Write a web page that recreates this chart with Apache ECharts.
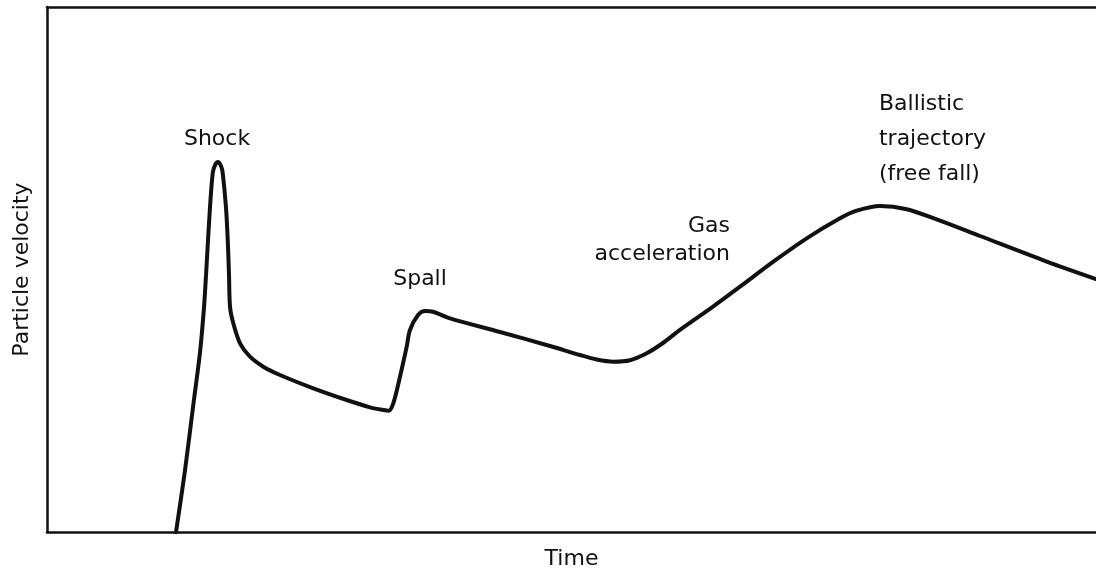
<!DOCTYPE html>
<html>
<head>
<meta charset="utf-8">
<script src="https://cdn.jsdelivr.net/npm/echarts@6/dist/echarts.min.js"></script>
<style>
  html, body { margin: 0; padding: 0; background: #fff; }
  #chart { width: 1096px; height: 575px; }
</style>
</head>
<body>
<div id="chart"></div>
<script>
// time (arbitrary units, 0..100) and particle velocity (arbitrary units, 0..100)
const timeValues = [
  12.30, 13.16, 13.92, 14.59, 14.97, 15.16, 15.35, 15.54, 15.80, 16.02, 16.30, 16.59, 16.75,
  17.06, 17.23, 17.35, 17.45, 17.76, 18.40, 19.35, 20.62, 22.21, 25.39, 28.57, 30.79, 32.06,
  32.56, 33.01, 33.65, 34.29, 34.60, 35.37, 36.03, 36.80, 38.42, 43.18, 47.95, 50.81, 52.40,
  53.99, 55.58, 57.17, 58.72, 60.34, 63.49, 66.06, 69.24, 72.42, 75.60, 77.19, 79.41, 81.96,
  85.13, 88.94, 95.30, 100
]
const velocityValues = [
  0, 11.81, 23.81, 34.29, 42.86, 48.95, 55.62, 61.90, 68.38, 69.90, 70.48, 69.71, 68.38,
  61.90, 55.62, 48.95, 42.86, 39.75, 35.94, 33.39, 31.49, 29.91, 27.37, 25.14, 23.75, 23.24,
  23.09, 24.51, 29.58, 35.30, 38.48, 41.33, 42.10, 41.96, 40.70, 38.10, 35.43, 33.71, 32.86,
  32.44, 32.71, 34.04, 36.00, 38.48, 42.92, 46.72, 51.49, 55.94, 59.75, 61.20, 62.10, 61.47,
  59.30, 56.38, 51.52, 48.19
]

// annotations placed in data units
const noteTexts = ['Shock', 'Spall', 'Gas', 'acceleration', 'Ballistic', 'trajectory', '(free fall)']
const noteTime = [16.21, 35.56, 65.11, 65.11, 79.31, 79.31, 79.31]
const noteVelocity = [74.86, 48.19, 58.29, 52.95, 81.52, 74.86, 68.19]
const noteAnchor = ['center', 'center', 'right', 'right', 'left', 'left', 'left']

const ink = '#111'
const font = 'DejaVu Sans'

const chart = echarts.init(document.getElementById('chart'), null, { renderer: 'canvas' })

const curve = timeValues.map((t, i) => [t, velocityValues[i]])
const notes = noteTexts.map((txt, i) => ({
  value: [noteTime[i], noteVelocity[i]],
  label: { formatter: txt, align: noteAnchor[i] }
}))

const bareAxis = {
  type: 'value',
  min: 0,
  max: 100,
  axisTick: { show: false },
  axisLabel: { show: false },
  splitLine: { show: false },
  axisLine: { show: true, lineStyle: { color: ink, width: 2.5 } }
}

chart.setOption({
  animation: false,
  grid: { left: 47, right: 0, top: 7, bottom: 43 },
  xAxis: [
    Object.assign({}, bareAxis, {
      position: 'bottom',
      name: 'Time',
      nameLocation: 'middle',
      nameGap: 16,
      nameTextStyle: { color: ink, fontSize: 22, fontFamily: font }
    }),
    Object.assign({}, bareAxis, { position: 'top' })
  ],
  yAxis: Object.assign({}, bareAxis, {
    name: 'Particle velocity',
    nameLocation: 'middle',
    nameGap: 14,
    nameTextStyle: { color: ink, fontSize: 22, fontFamily: font }
  }),
  series: [
    {
      type: 'line',
      data: curve,
      showSymbol: false,
      smooth: 0.3,
      lineStyle: { color: ink, width: 4, cap: 'round', join: 'round' }
    },
    {
      type: 'scatter',
      data: notes,
      symbolSize: 0,
      silent: true,
      itemStyle: { opacity: 1 },
      label: {
        show: true,
        position: 'inside',
        verticalAlign: 'middle',
        color: ink,
        opacity: 1,
        fontSize: 22,
        fontFamily: font
      }
    }
  ]
})
</script>
</body>
</html>
